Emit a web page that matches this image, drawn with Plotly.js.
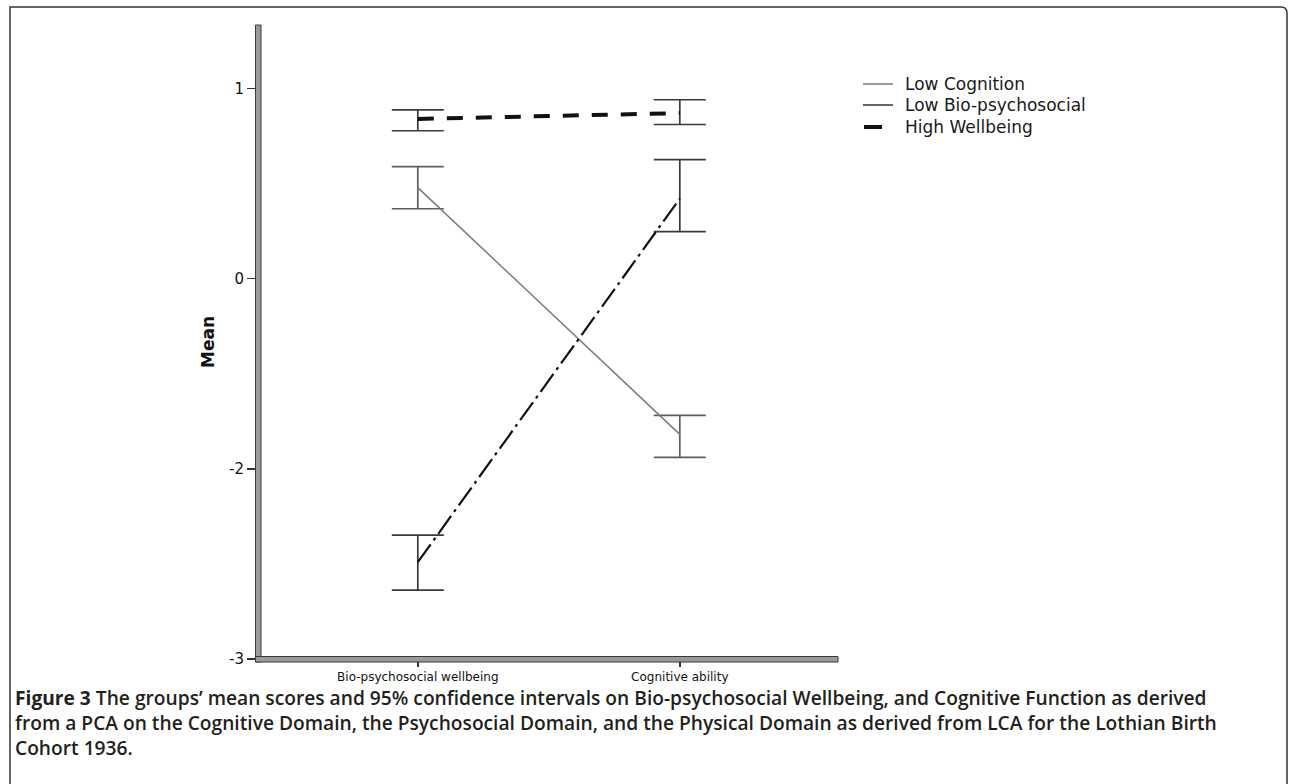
<!DOCTYPE html>
<html>
<head>
<meta charset="utf-8">
<script src="https://cdn.plot.ly/plotly-3.0.1.min.js"></script>
<style>html,body{margin:0;padding:0;background:#fff;}#chart{width:1292px;height:784px;}</style>
</head>
<body>
<div id="chart"></div>
<script>
// ---- data (in the chart's plotting units) ----
var categories = ['Bio-psychosocial wellbeing', 'Cognitive ability'];
var categoryPos = [0, 1];
var seriesNames = ['Low Cognition', 'Low Bio-psychosocial', 'High Wellbeing'];

var lowCognitionMean  = [0.478, -0.819];
var lowCognitionUpper = [0.588, -0.719];
var lowCognitionLower = [0.367, -0.940];

var lowBioMean  = [-1.491, 0.420];
var lowBioUpper = [-1.349, 0.625];
var lowBioLower = [-1.638, 0.247];

var highWellMean  = [0.839, 0.870];
var highWellUpper = [0.887, 0.940];
var highWellLower = [0.777, 0.810];

var yTickVals = [1, 0, -1, -2];
var yTickText = ['1', '0', '-2', '-3'];

var yTitle = 'Mean';
var captionLines = [
  '<b>Figure 3</b> The groups\u2019 mean scores and 95% confidence intervals on Bio-psychosocial Wellbeing, and Cognitive Function as derived',
  'from a PCA on the Cognitive Domain, the Psychosocial Domain, and the Physical Domain as derived from LCA for the Lothian Birth',
  'Cohort 1936.'
];

// ---- geometry helpers (pixel -> paper) ----
var W = 1292, H = 784;
var L = 258, R = 837, T = 25, B = 659;
function px(X) { return (X - L) / (R - L); }
function py(Y) { return (B - Y) / (B - T); }

function diff(a, b) { return a.map(function (v, i) { return v - b[i]; }); }

var styles = [
  {color: '#7a7a7a', width: 1.5, dash: 'solid'},
  {color: '#111111', width: 2.2, dash: '22px,5px,3px,5px'},
  {color: '#111111', width: 4, dash: '16px,13px'}
];
var means = [lowCognitionMean, lowBioMean, highWellMean];
var uppers = [lowCognitionUpper, lowBioUpper, highWellUpper];
var lowers = [lowCognitionLower, lowBioLower, highWellLower];

var traces = [];
for (var s = 0; s < 3; s++) {
  traces.push({
    type: 'scatter', mode: 'lines', name: seriesNames[s],
    x: categoryPos, y: means[s],
    line: styles[s], showlegend: false, hoverinfo: 'skip',
    error_y: {type: 'data', symmetric: false,
      array: diff(uppers[s], means[s]), arrayminus: diff(means[s], lowers[s]),
      color: s === 0 ? '#5e5e5e' : '#3a3a3a', thickness: 1.7, width: 26}
  });
}

var shapes = [];
var annotations = [];

// axes drawn as SPSS-like double lines
shapes.push({type: 'rect', xref: 'paper', yref: 'paper', x0: px(255.5), x1: px(261), y0: py(662), y1: py(25),
  line: {color: '#3a3a3a', width: 1}, fillcolor: '#9a9a9a', layer: 'above'});
shapes.push({type: 'rect', xref: 'paper', yref: 'paper', x0: px(255.5), x1: px(838), y0: py(662), y1: py(656.5),
  line: {color: '#3a3a3a', width: 1}, fillcolor: '#9a9a9a', layer: 'above'});

// figure frame
var fx0 = px(10), fx1 = px(1287), fy0 = py(7), fyb = py(800);
var rx = px(1287) - px(1281), ry = py(7) - py(13);
shapes.push({type: 'path', xref: 'paper', yref: 'paper',
  path: 'M ' + fx0 + ' ' + fyb + ' L ' + fx0 + ' ' + fy0 + ' L ' + (fx1 - rx) + ' ' + fy0 +
        ' Q ' + fx1 + ' ' + fy0 + ' ' + fx1 + ' ' + (fy0 - ry) + ' L ' + fx1 + ' ' + fyb,
  line: {color: '#333333', width: 1.5}});

// custom legend (SPSS style)
var legY = [84, 105, 127];
for (var k = 0; k < 3; k++) {
  var st = styles[k];
  var xa = k === 2 ? 864 : 863, xb = k === 2 ? 882 : 893;
  shapes.push({type: 'line', xref: 'paper', yref: 'paper', x0: px(xa), x1: px(xb), y0: py(legY[k]), y1: py(legY[k]),
    line: {color: k === 1 ? '#333' : st.color, width: k === 2 ? 4 : 1.5}});
  annotations.push({xref: 'paper', yref: 'paper', x: px(903), y: py(legY[k]), xanchor: 'left', yanchor: 'middle',
    text: seriesNames[k], showarrow: false, font: {family: 'DejaVu Sans', size: 17, color: '#1a1a1a'}});
}

// y title
annotations.push({xref: 'paper', yref: 'paper', x: px(208), y: py(342), xanchor: 'center', yanchor: 'middle',
  text: '<b>' + yTitle + '</b>', textangle: -90, showarrow: false,
  font: {family: 'DejaVu Sans', size: 17, color: '#111'}});

// caption (one multi-line text block)
annotations.push({xref: 'paper', yref: 'paper', x: px(13), y: py(722), xanchor: 'left', yanchor: 'middle',
  text: captionLines.join('<br>'), showarrow: false, align: 'left',
  font: {family: 'Open Sans', size: 19.2, color: '#231f20', weight: 600}});

var layout = {
  width: W, height: H,
  margin: {l: L, r: W - R, t: T, b: H - B, pad: 0},
  paper_bgcolor: '#ffffff', plot_bgcolor: '#ffffff',
  showlegend: false,
  xaxis: {range: [-0.61, 1.6], tickvals: categoryPos, ticktext: categories,
    showgrid: false, zeroline: false, showline: false,
    ticks: 'outside', ticklen: 7, tickwidth: 1.5, tickcolor: '#333',
    tickfont: {family: 'DejaVu Sans', size: 12, color: '#111'}, fixedrange: true},
  yaxis: {range: [-2, 1.333], tickvals: yTickVals, ticktext: yTickText,
    showgrid: false, zeroline: false, showline: false,
    ticks: 'outside', ticklen: 10, tickwidth: 1.5, tickcolor: '#333',
    tickfont: {family: 'DejaVu Sans', size: 15, color: '#111'}, fixedrange: true},
  shapes: shapes,
  annotations: annotations
};

Plotly.newPlot('chart', traces, layout, {displayModeBar: false, staticPlot: true});
</script>
</body>
</html>
